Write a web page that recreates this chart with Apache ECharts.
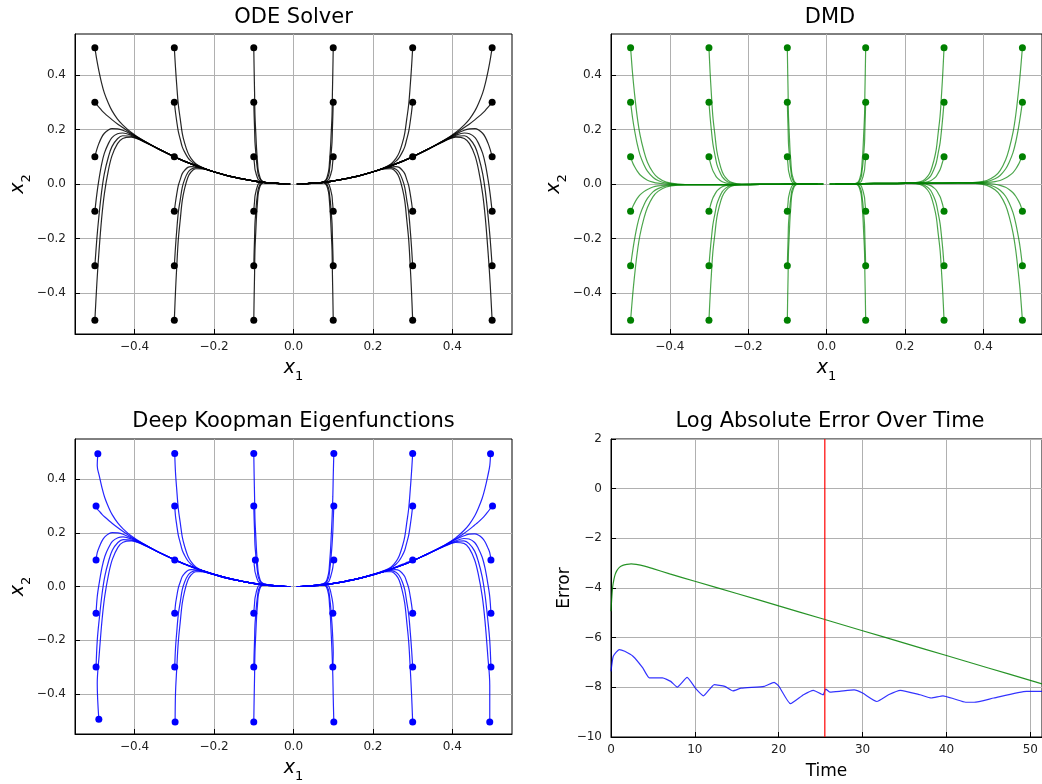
<!DOCTYPE html>
<html>
<head>
<meta charset="utf-8">
<script src="https://cdn.jsdelivr.net/npm/echarts@6/dist/echarts.min.js"></script>
<style>
  html, body { margin: 0; padding: 0; background: #fff; }
  #chart { width: 1042px; height: 784px; }
</style>
</head>
<body>
<div id="chart"></div>
<script>
// ---------------------------------------------------------------------------
// Phase-portrait data. Columns are the initial x1 values, rows the initial x2.
// Each trajectory is sampled at the same instants along its path.
// ---------------------------------------------------------------------------
const startX1 = [-0.5, -0.3, -0.1, 0.1, 0.3, 0.5];
const startX2 = [0.5, 0.3, 0.1, -0.1, -0.3, -0.5];
const phaseTicks = [-0.4, -0.2, 0, 0.2, 0.4];
const timeTicks = [0, 10, 20, 30, 40, 50];
const errorTicks = [-10, -8, -6, -4, -2, 0, 2];

// x1 along the trajectories of each column (ODE solver)
const odeX1 = [
  [-0.5, -0.495, -0.49, -0.483, -0.476, -0.466, -0.457, -0.443, -0.43, -0.409, -0.38, -0.335, -0.274, -0.203, -0.136, -0.075, -0.038],
  [-0.3, -0.297, -0.294, -0.29, -0.285, -0.28, -0.274, -0.266, -0.258, -0.246, -0.228, -0.201, -0.165, -0.122, -0.082, -0.045, -0.023],
  [-0.1, -0.099, -0.098, -0.097, -0.095, -0.093, -0.091, -0.089, -0.086, -0.082, -0.076, -0.067, -0.055, -0.041, -0.027, -0.015, -0.008],
  [0.1, 0.099, 0.098, 0.097, 0.095, 0.093, 0.091, 0.089, 0.086, 0.082, 0.076, 0.067, 0.055, 0.041, 0.027, 0.015, 0.008],
  [0.3, 0.297, 0.294, 0.29, 0.285, 0.28, 0.274, 0.266, 0.258, 0.246, 0.228, 0.201, 0.165, 0.122, 0.082, 0.045, 0.023],
  [0.5, 0.495, 0.49, 0.483, 0.476, 0.466, 0.457, 0.443, 0.43, 0.409, 0.38, 0.335, 0.274, 0.203, 0.136, 0.075, 0.038]
];

// x2 along the trajectories (ODE solver): odeX2[column][row]
const odeX2 = [
  [
    [0.5, 0.454, 0.416, 0.37, 0.333, 0.296, 0.269, 0.238, 0.217, 0.19, 0.161, 0.125, 0.083, 0.046, 0.021, 0.006, 0.002],
    [0.3, 0.29, 0.282, 0.27, 0.26, 0.247, 0.236, 0.22, 0.207, 0.186, 0.161, 0.125, 0.083, 0.046, 0.021, 0.006, 0.002],
    [0.1, 0.127, 0.148, 0.171, 0.186, 0.198, 0.203, 0.202, 0.197, 0.183, 0.16, 0.125, 0.083, 0.046, 0.021, 0.006, 0.002],
    [-0.1, -0.037, 0.014, 0.072, 0.113, 0.148, 0.17, 0.184, 0.187, 0.179, 0.159, 0.125, 0.083, 0.046, 0.021, 0.006, 0.002],
    [-0.3, -0.201, -0.121, -0.028, 0.039, 0.099, 0.137, 0.166, 0.177, 0.175, 0.158, 0.125, 0.083, 0.046, 0.021, 0.006, 0.002],
    [-0.5, -0.365, -0.255, -0.127, -0.035, 0.05, 0.103, 0.148, 0.167, 0.172, 0.157, 0.125, 0.083, 0.046, 0.021, 0.006, 0.002]
  ],
  [
    [0.5, 0.426, 0.364, 0.292, 0.238, 0.186, 0.15, 0.115, 0.094, 0.074, 0.059, 0.045, 0.03, 0.017, 0.007, 0.002, 0.001],
    [0.3, 0.262, 0.23, 0.193, 0.164, 0.136, 0.117, 0.097, 0.084, 0.071, 0.059, 0.045, 0.03, 0.017, 0.007, 0.002, 0.001],
    [0.1, 0.098, 0.096, 0.093, 0.091, 0.087, 0.084, 0.079, 0.074, 0.067, 0.058, 0.045, 0.03, 0.017, 0.007, 0.002, 0.001],
    [-0.1, -0.066, -0.038, -0.006, 0.017, 0.038, 0.05, 0.061, 0.064, 0.063, 0.057, 0.045, 0.03, 0.017, 0.007, 0.002, 0.001],
    [-0.3, -0.23, -0.172, -0.105, -0.057, -0.012, 0.017, 0.042, 0.054, 0.06, 0.056, 0.045, 0.03, 0.017, 0.007, 0.002, 0.001],
    [-0.5, -0.393, -0.306, -0.205, -0.13, -0.061, -0.016, 0.024, 0.044, 0.056, 0.055, 0.045, 0.03, 0.017, 0.007, 0.002, 0.001]
  ],
  [
    [0.5, 0.411, 0.338, 0.253, 0.19, 0.13, 0.09, 0.053, 0.033, 0.016, 0.008, 0.005, 0.003, 0.002, 0.001, 0, 0],
    [0.3, 0.247, 0.204, 0.154, 0.116, 0.081, 0.057, 0.035, 0.023, 0.013, 0.008, 0.005, 0.003, 0.002, 0.001, 0, 0],
    [0.1, 0.084, 0.07, 0.054, 0.043, 0.032, 0.024, 0.017, 0.013, 0.009, 0.007, 0.005, 0.003, 0.002, 0.001, 0, 0],
    [-0.1, -0.08, -0.064, -0.045, -0.031, -0.018, -0.009, -0.001, 0.003, 0.005, 0.006, 0.005, 0.003, 0.002, 0.001, 0, 0],
    [-0.3, -0.244, -0.198, -0.144, -0.105, -0.067, -0.042, -0.02, -0.007, 0.002, 0.005, 0.005, 0.003, 0.002, 0.001, 0, 0],
    [-0.5, -0.408, -0.332, -0.243, -0.178, -0.116, -0.075, -0.038, -0.017, -0.002, 0.004, 0.005, 0.003, 0.002, 0.001, 0, 0]
  ],
  [
    [0.5, 0.411, 0.338, 0.253, 0.19, 0.13, 0.09, 0.053, 0.033, 0.016, 0.008, 0.005, 0.003, 0.002, 0.001, 0, 0],
    [0.3, 0.247, 0.204, 0.154, 0.116, 0.081, 0.057, 0.035, 0.023, 0.013, 0.008, 0.005, 0.003, 0.002, 0.001, 0, 0],
    [0.1, 0.084, 0.07, 0.054, 0.043, 0.032, 0.024, 0.017, 0.013, 0.009, 0.007, 0.005, 0.003, 0.002, 0.001, 0, 0],
    [-0.1, -0.08, -0.064, -0.045, -0.031, -0.018, -0.009, -0.001, 0.003, 0.005, 0.006, 0.005, 0.003, 0.002, 0.001, 0, 0],
    [-0.3, -0.244, -0.198, -0.144, -0.105, -0.067, -0.042, -0.02, -0.007, 0.002, 0.005, 0.005, 0.003, 0.002, 0.001, 0, 0],
    [-0.5, -0.408, -0.332, -0.243, -0.178, -0.116, -0.075, -0.038, -0.017, -0.002, 0.004, 0.005, 0.003, 0.002, 0.001, 0, 0]
  ],
  [
    [0.5, 0.426, 0.364, 0.292, 0.238, 0.186, 0.15, 0.115, 0.094, 0.074, 0.059, 0.045, 0.03, 0.017, 0.007, 0.002, 0.001],
    [0.3, 0.262, 0.23, 0.193, 0.164, 0.136, 0.117, 0.097, 0.084, 0.071, 0.059, 0.045, 0.03, 0.017, 0.007, 0.002, 0.001],
    [0.1, 0.098, 0.096, 0.093, 0.091, 0.087, 0.084, 0.079, 0.074, 0.067, 0.058, 0.045, 0.03, 0.017, 0.007, 0.002, 0.001],
    [-0.1, -0.066, -0.038, -0.006, 0.017, 0.038, 0.05, 0.061, 0.064, 0.063, 0.057, 0.045, 0.03, 0.017, 0.007, 0.002, 0.001],
    [-0.3, -0.23, -0.172, -0.105, -0.057, -0.012, 0.017, 0.042, 0.054, 0.06, 0.056, 0.045, 0.03, 0.017, 0.007, 0.002, 0.001],
    [-0.5, -0.393, -0.306, -0.205, -0.13, -0.061, -0.016, 0.024, 0.044, 0.056, 0.055, 0.045, 0.03, 0.017, 0.007, 0.002, 0.001]
  ],
  [
    [0.5, 0.454, 0.416, 0.37, 0.333, 0.296, 0.269, 0.238, 0.217, 0.19, 0.161, 0.125, 0.083, 0.046, 0.021, 0.006, 0.002],
    [0.3, 0.29, 0.282, 0.27, 0.26, 0.247, 0.236, 0.22, 0.207, 0.186, 0.161, 0.125, 0.083, 0.046, 0.021, 0.006, 0.002],
    [0.1, 0.127, 0.148, 0.171, 0.186, 0.198, 0.203, 0.202, 0.197, 0.183, 0.16, 0.125, 0.083, 0.046, 0.021, 0.006, 0.002],
    [-0.1, -0.037, 0.014, 0.072, 0.113, 0.148, 0.17, 0.184, 0.187, 0.179, 0.159, 0.125, 0.083, 0.046, 0.021, 0.006, 0.002],
    [-0.3, -0.201, -0.121, -0.028, 0.039, 0.099, 0.137, 0.166, 0.177, 0.175, 0.158, 0.125, 0.083, 0.046, 0.021, 0.006, 0.002],
    [-0.5, -0.365, -0.255, -0.127, -0.035, 0.05, 0.103, 0.148, 0.167, 0.172, 0.157, 0.125, 0.083, 0.046, 0.021, 0.006, 0.002]
  ]
];

// x1 along the trajectories of each column (DMD reconstruction)
const dmdX1 = [
  [-0.5, -0.495, -0.49, -0.483, -0.476, -0.466, -0.457, -0.443, -0.43, -0.409, -0.38, -0.335, -0.274, -0.203, -0.136, -0.075, -0.038],
  [-0.3, -0.297, -0.294, -0.29, -0.285, -0.28, -0.274, -0.266, -0.258, -0.246, -0.228, -0.201, -0.165, -0.122, -0.082, -0.045, -0.023],
  [-0.1, -0.099, -0.098, -0.097, -0.095, -0.093, -0.091, -0.089, -0.086, -0.082, -0.076, -0.067, -0.055, -0.041, -0.027, -0.015, -0.008],
  [0.1, 0.099, 0.098, 0.097, 0.095, 0.093, 0.091, 0.089, 0.086, 0.082, 0.076, 0.067, 0.055, 0.041, 0.027, 0.015, 0.008],
  [0.3, 0.297, 0.294, 0.29, 0.285, 0.28, 0.274, 0.266, 0.258, 0.246, 0.228, 0.201, 0.165, 0.122, 0.082, 0.045, 0.023],
  [0.5, 0.495, 0.49, 0.483, 0.476, 0.466, 0.457, 0.443, 0.43, 0.409, 0.38, 0.335, 0.274, 0.203, 0.136, 0.075, 0.038]
];

// x2 along the trajectories (DMD reconstruction): dmdX2[column][row]
const dmdX2 = [
  [
    [0.5, 0.406, 0.332, 0.245, 0.181, 0.12, 0.08, 0.043, 0.023, 0.007, 0, -0.002, -0.002, -0.002, -0.001, -0.001, 0],
    [0.3, 0.243, 0.198, 0.146, 0.107, 0.071, 0.047, 0.025, 0.013, 0.003, -0.001, -0.002, -0.002, -0.002, -0.001, -0.001, 0],
    [0.1, 0.079, 0.064, 0.047, 0.034, 0.022, 0.014, 0.007, 0.003, 0, -0.002, -0.002, -0.002, -0.002, -0.001, -0.001, 0],
    [-0.1, -0.085, -0.07, -0.053, -0.04, -0.028, -0.02, -0.011, -0.007, -0.004, -0.002, -0.002, -0.002, -0.002, -0.001, -0.001, 0],
    [-0.3, -0.249, -0.204, -0.152, -0.113, -0.077, -0.053, -0.029, -0.017, -0.007, -0.003, -0.002, -0.002, -0.002, -0.001, -0.001, 0],
    [-0.5, -0.412, -0.338, -0.251, -0.187, -0.126, -0.086, -0.047, -0.027, -0.011, -0.004, -0.002, -0.002, -0.002, -0.001, -0.001, 0]
  ],
  [
    [0.5, 0.408, 0.334, 0.247, 0.183, 0.122, 0.082, 0.044, 0.024, 0.008, 0.001, -0.001, -0.001, -0.001, 0, 0, 0],
    [0.3, 0.245, 0.2, 0.148, 0.109, 0.073, 0.049, 0.026, 0.014, 0.004, 0, -0.001, -0.001, -0.001, 0, 0, 0],
    [0.1, 0.081, 0.066, 0.049, 0.036, 0.024, 0.016, 0.008, 0.004, 0.001, -0.001, -0.001, -0.001, -0.001, 0, 0, 0],
    [-0.1, -0.083, -0.068, -0.051, -0.038, -0.026, -0.018, -0.01, -0.006, -0.003, -0.001, -0.001, -0.001, -0.001, 0, 0, 0],
    [-0.3, -0.247, -0.202, -0.15, -0.111, -0.075, -0.051, -0.028, -0.016, -0.006, -0.002, -0.001, -0.001, -0.001, 0, 0, 0],
    [-0.5, -0.41, -0.336, -0.249, -0.185, -0.124, -0.084, -0.046, -0.026, -0.01, -0.003, -0.001, -0.001, -0.001, 0, 0, 0]
  ],
  [
    [0.5, 0.409, 0.335, 0.248, 0.184, 0.123, 0.083, 0.045, 0.025, 0.009, 0.002, 0, 0, 0, 0, 0, 0],
    [0.3, 0.246, 0.201, 0.149, 0.11, 0.074, 0.05, 0.027, 0.015, 0.005, 0.001, 0, 0, 0, 0, 0, 0],
    [0.1, 0.082, 0.067, 0.05, 0.037, 0.025, 0.017, 0.009, 0.005, 0.002, 0, 0, 0, 0, 0, 0, 0],
    [-0.1, -0.082, -0.067, -0.05, -0.037, -0.025, -0.017, -0.009, -0.005, -0.002, 0, 0, 0, 0, 0, 0, 0],
    [-0.3, -0.246, -0.201, -0.149, -0.11, -0.074, -0.05, -0.027, -0.015, -0.005, -0.001, 0, 0, 0, 0, 0, 0],
    [-0.5, -0.409, -0.335, -0.248, -0.184, -0.123, -0.083, -0.045, -0.025, -0.009, -0.002, 0, 0, 0, 0, 0, 0]
  ],
  [
    [0.5, 0.41, 0.336, 0.249, 0.185, 0.124, 0.084, 0.046, 0.026, 0.01, 0.003, 0.001, 0.001, 0.001, 0, 0, 0],
    [0.3, 0.247, 0.202, 0.15, 0.111, 0.075, 0.051, 0.028, 0.016, 0.006, 0.002, 0.001, 0.001, 0.001, 0, 0, 0],
    [0.1, 0.083, 0.068, 0.051, 0.038, 0.026, 0.018, 0.01, 0.006, 0.003, 0.001, 0.001, 0.001, 0.001, 0, 0, 0],
    [-0.1, -0.081, -0.066, -0.049, -0.036, -0.024, -0.016, -0.008, -0.004, -0.001, 0.001, 0.001, 0.001, 0.001, 0, 0, 0],
    [-0.3, -0.245, -0.2, -0.148, -0.109, -0.073, -0.049, -0.026, -0.014, -0.004, 0, 0.001, 0.001, 0.001, 0, 0, 0],
    [-0.5, -0.408, -0.334, -0.247, -0.183, -0.122, -0.082, -0.044, -0.024, -0.008, -0.001, 0.001, 0.001, 0.001, 0, 0, 0]
  ],
  [
    [0.5, 0.412, 0.338, 0.251, 0.187, 0.126, 0.086, 0.048, 0.028, 0.012, 0.005, 0.003, 0.002, 0.002, 0.001, 0, 0],
    [0.3, 0.249, 0.204, 0.152, 0.113, 0.077, 0.053, 0.03, 0.018, 0.008, 0.004, 0.003, 0.002, 0.002, 0.001, 0, 0],
    [0.1, 0.085, 0.07, 0.053, 0.04, 0.028, 0.02, 0.012, 0.008, 0.005, 0.003, 0.003, 0.002, 0.002, 0.001, 0, 0],
    [-0.1, -0.079, -0.064, -0.047, -0.034, -0.022, -0.014, -0.006, -0.002, 0.001, 0.003, 0.003, 0.002, 0.002, 0.001, 0, 0],
    [-0.3, -0.243, -0.198, -0.146, -0.107, -0.071, -0.047, -0.024, -0.012, -0.002, 0.002, 0.003, 0.002, 0.002, 0.001, 0, 0],
    [-0.5, -0.406, -0.332, -0.245, -0.181, -0.12, -0.08, -0.042, -0.022, -0.006, 0.001, 0.003, 0.002, 0.002, 0.001, 0, 0]
  ],
  [
    [0.5, 0.414, 0.34, 0.253, 0.189, 0.128, 0.088, 0.049, 0.029, 0.013, 0.006, 0.004, 0.003, 0.002, 0.001, 0.001, 0],
    [0.3, 0.251, 0.206, 0.154, 0.115, 0.079, 0.055, 0.031, 0.019, 0.009, 0.005, 0.004, 0.003, 0.002, 0.001, 0.001, 0],
    [0.1, 0.087, 0.072, 0.055, 0.042, 0.03, 0.022, 0.013, 0.009, 0.006, 0.004, 0.004, 0.003, 0.002, 0.001, 0.001, 0],
    [-0.1, -0.077, -0.062, -0.045, -0.032, -0.02, -0.012, -0.005, -0.001, 0.002, 0.004, 0.004, 0.003, 0.002, 0.001, 0.001, 0],
    [-0.3, -0.241, -0.196, -0.144, -0.105, -0.069, -0.045, -0.023, -0.011, -0.001, 0.003, 0.004, 0.003, 0.002, 0.001, 0.001, 0],
    [-0.5, -0.404, -0.33, -0.243, -0.179, -0.118, -0.078, -0.041, -0.021, -0.005, 0.002, 0.004, 0.003, 0.002, 0.001, 0.001, 0]
  ]
];

// x1 along the trajectories of each column (Deep Koopman prediction)
const koopX1 = [
  [-0.497, -0.494, -0.489, -0.482, -0.475, -0.465, -0.456, -0.442, -0.429, -0.408, -0.379, -0.334, -0.273, -0.202, -0.135, -0.074, -0.037],
  [-0.299, -0.297, -0.294, -0.29, -0.285, -0.28, -0.274, -0.266, -0.258, -0.246, -0.228, -0.201, -0.165, -0.122, -0.082, -0.045, -0.023],
  [-0.1, -0.099, -0.098, -0.097, -0.095, -0.093, -0.091, -0.089, -0.086, -0.082, -0.076, -0.067, -0.055, -0.041, -0.027, -0.015, -0.008],
  [0.101, 0.1, 0.099, 0.097, 0.095, 0.093, 0.091, 0.089, 0.086, 0.082, 0.076, 0.067, 0.055, 0.041, 0.027, 0.015, 0.008],
  [0.3, 0.297, 0.294, 0.29, 0.285, 0.28, 0.274, 0.266, 0.258, 0.246, 0.228, 0.201, 0.165, 0.122, 0.082, 0.045, 0.023],
  [0.497, 0.494, 0.489, 0.482, 0.475, 0.465, 0.456, 0.442, 0.429, 0.408, 0.379, 0.334, 0.273, 0.202, 0.135, 0.074, 0.037]
];

// starting x1 of the Deep Koopman trajectories (encoded initial states), koopStartX1[column][row]
const koopStartX1 = [
  [-0.4925, -0.497, -0.497, -0.497, -0.497, -0.49],
  [-0.299, -0.299, -0.299, -0.299, -0.299, -0.298],
  [-0.1, -0.1, -0.096, -0.1, -0.1, -0.1],
  [0.1015, 0.1015, 0.1015, 0.099, 0.099, 0.1015],
  [0.3, 0.3, 0.3, 0.3, 0.3, 0.3],
  [0.496, 0.501, 0.497, 0.497, 0.497, 0.494]
];

// x2 along the trajectories (Deep Koopman prediction): koopX2[column][row]
const koopX2 = [
  [
    [0.495, 0.45, 0.413, 0.368, 0.331, 0.294, 0.267, 0.236, 0.215, 0.188, 0.16, 0.124, 0.083, 0.046, 0.021, 0.006, 0.002],
    [0.3, 0.289, 0.281, 0.269, 0.259, 0.246, 0.235, 0.219, 0.205, 0.184, 0.16, 0.124, 0.083, 0.046, 0.021, 0.006, 0.002],
    [0.099, 0.126, 0.147, 0.17, 0.185, 0.197, 0.201, 0.2, 0.195, 0.181, 0.159, 0.124, 0.083, 0.046, 0.021, 0.006, 0.002],
    [-0.1, -0.038, 0.013, 0.071, 0.112, 0.146, 0.168, 0.182, 0.185, 0.177, 0.158, 0.124, 0.083, 0.046, 0.021, 0.006, 0.002],
    [-0.3, -0.202, -0.122, -0.029, 0.038, 0.097, 0.135, 0.164, 0.175, 0.173, 0.157, 0.124, 0.083, 0.046, 0.021, 0.006, 0.002],
    [-0.495, -0.362, -0.253, -0.126, -0.035, 0.049, 0.101, 0.146, 0.165, 0.17, 0.156, 0.124, 0.083, 0.046, 0.021, 0.006, 0.002]
  ],
  [
    [0.496, 0.424, 0.363, 0.291, 0.237, 0.185, 0.149, 0.114, 0.093, 0.073, 0.059, 0.045, 0.03, 0.017, 0.007, 0.002, 0.001],
    [0.3, 0.262, 0.23, 0.192, 0.163, 0.135, 0.116, 0.096, 0.083, 0.07, 0.058, 0.045, 0.03, 0.017, 0.007, 0.002, 0.001],
    [0.099, 0.097, 0.095, 0.092, 0.09, 0.086, 0.083, 0.078, 0.073, 0.066, 0.058, 0.045, 0.03, 0.017, 0.007, 0.002, 0.001],
    [-0.1, -0.066, -0.038, -0.006, 0.017, 0.037, 0.049, 0.06, 0.063, 0.062, 0.056, 0.045, 0.03, 0.017, 0.007, 0.002, 0.001],
    [-0.3, -0.23, -0.172, -0.105, -0.057, -0.012, 0.017, 0.041, 0.053, 0.059, 0.055, 0.045, 0.03, 0.017, 0.007, 0.002, 0.001],
    [-0.505, -0.397, -0.309, -0.207, -0.131, -0.062, -0.017, 0.023, 0.043, 0.055, 0.055, 0.045, 0.03, 0.017, 0.007, 0.002, 0.001]
  ],
  [
    [0.496, 0.408, 0.336, 0.252, 0.19, 0.131, 0.091, 0.055, 0.035, 0.018, 0.011, 0.007, 0.004, 0.002, 0.001, 0, 0],
    [0.3, 0.247, 0.205, 0.155, 0.118, 0.083, 0.059, 0.037, 0.025, 0.015, 0.01, 0.007, 0.004, 0.002, 0.001, 0, 0],
    [0.099, 0.084, 0.071, 0.056, 0.045, 0.034, 0.026, 0.019, 0.015, 0.011, 0.009, 0.007, 0.004, 0.002, 0.001, 0, 0],
    [-0.1, -0.08, -0.063, -0.044, -0.03, -0.016, -0.007, 0.001, 0.005, 0.008, 0.008, 0.007, 0.004, 0.002, 0.001, 0, 0],
    [-0.3, -0.244, -0.198, -0.143, -0.104, -0.066, -0.041, -0.018, -0.005, 0.004, 0.007, 0.007, 0.004, 0.002, 0.001, 0, 0],
    [-0.505, -0.412, -0.335, -0.245, -0.179, -0.116, -0.075, -0.037, -0.015, 0, 0.006, 0.007, 0.004, 0.002, 0.001, 0, 0]
  ],
  [
    [0.496, 0.408, 0.336, 0.252, 0.19, 0.131, 0.091, 0.055, 0.035, 0.018, 0.011, 0.007, 0.004, 0.002, 0.001, 0, 0],
    [0.3, 0.247, 0.205, 0.155, 0.118, 0.083, 0.059, 0.037, 0.025, 0.015, 0.01, 0.007, 0.004, 0.002, 0.001, 0, 0],
    [0.099, 0.084, 0.071, 0.056, 0.045, 0.034, 0.026, 0.019, 0.015, 0.011, 0.009, 0.007, 0.004, 0.002, 0.001, 0, 0],
    [-0.1, -0.08, -0.063, -0.044, -0.03, -0.016, -0.007, 0.001, 0.005, 0.008, 0.008, 0.007, 0.004, 0.002, 0.001, 0, 0],
    [-0.3, -0.244, -0.198, -0.143, -0.104, -0.066, -0.041, -0.018, -0.005, 0.004, 0.007, 0.007, 0.004, 0.002, 0.001, 0, 0],
    [-0.505, -0.412, -0.335, -0.245, -0.179, -0.116, -0.075, -0.037, -0.015, 0, 0.006, 0.007, 0.004, 0.002, 0.001, 0, 0]
  ],
  [
    [0.496, 0.424, 0.363, 0.291, 0.237, 0.185, 0.149, 0.114, 0.093, 0.073, 0.059, 0.045, 0.03, 0.017, 0.007, 0.002, 0.001],
    [0.3, 0.262, 0.23, 0.192, 0.163, 0.135, 0.116, 0.096, 0.083, 0.07, 0.058, 0.045, 0.03, 0.017, 0.007, 0.002, 0.001],
    [0.099, 0.097, 0.095, 0.092, 0.09, 0.086, 0.083, 0.078, 0.073, 0.066, 0.058, 0.045, 0.03, 0.017, 0.007, 0.002, 0.001],
    [-0.1, -0.066, -0.038, -0.006, 0.017, 0.037, 0.049, 0.06, 0.063, 0.062, 0.056, 0.045, 0.03, 0.017, 0.007, 0.002, 0.001],
    [-0.3, -0.23, -0.172, -0.105, -0.057, -0.012, 0.017, 0.041, 0.053, 0.059, 0.055, 0.045, 0.03, 0.017, 0.007, 0.002, 0.001],
    [-0.505, -0.397, -0.309, -0.207, -0.131, -0.062, -0.017, 0.023, 0.043, 0.055, 0.055, 0.045, 0.03, 0.017, 0.007, 0.002, 0.001]
  ],
  [
    [0.495, 0.45, 0.412, 0.366, 0.329, 0.291, 0.263, 0.231, 0.209, 0.181, 0.153, 0.119, 0.079, 0.044, 0.02, 0.006, 0.002],
    [0.3, 0.288, 0.278, 0.265, 0.254, 0.24, 0.229, 0.212, 0.198, 0.177, 0.153, 0.119, 0.079, 0.044, 0.02, 0.006, 0.002],
    [0.099, 0.126, 0.145, 0.167, 0.181, 0.192, 0.196, 0.195, 0.189, 0.175, 0.152, 0.119, 0.079, 0.044, 0.02, 0.006, 0.002],
    [-0.1, -0.038, 0.012, 0.069, 0.109, 0.143, 0.164, 0.177, 0.179, 0.17, 0.151, 0.119, 0.079, 0.044, 0.02, 0.006, 0.002],
    [-0.3, -0.202, -0.123, -0.03, 0.036, 0.095, 0.132, 0.16, 0.17, 0.167, 0.15, 0.119, 0.079, 0.044, 0.02, 0.006, 0.002],
    [-0.505, -0.368, -0.257, -0.128, -0.036, 0.047, 0.099, 0.143, 0.161, 0.164, 0.149, 0.119, 0.079, 0.044, 0.02, 0.006, 0.002]
  ]
];

// Log absolute prediction error over time
const errTimeDmd = [0, 0.1, 0.2, 0.35, 0.5, 0.7, 1, 1.4, 1.9, 2.4, 3, 4, 5, 7, 10, 15, 20, 25, 30, 35, 40, 45, 50, 51.4];
const errDmd = [-4.94, -4.35, -3.95, -3.65, -3.45, -3.3, -3.17, -3.09, -3.05, -3.03, -3.05, -3.12, -3.22, -3.43, -3.73, -4.22, -4.72, -5.22, -5.72, -6.22, -6.72, -7.22, -7.72, -7.86];
const errTimeKoop = [0, 0.27, 0.98, 1.64, 2.62, 3.79, 4.57, 6.14, 7.12, 7.9, 9.08, 10.06, 11.03, 12.32, 13.57, 14.55, 15.53, 18.27, 19.45, 20.03, 21.4, 22.96, 24.14, 25.3, 25.6, 26.1, 27.26, 29.0, 30.0, 31.7, 33.1, 34.5, 36.85, 38.2, 39.6, 40.96, 42.3, 43.3, 45.65, 49.56, 51.4];
const errKoop = [-7.36, -6.75, -6.48, -6.55, -6.75, -7.22, -7.62, -7.62, -7.76, -7.99, -7.6, -8.03, -8.34, -7.89, -7.96, -8.14, -8.03, -7.96, -7.8, -7.96, -8.66, -8.3, -8.12, -8.3, -8.07, -8.19, -8.16, -8.1, -8.23, -8.57, -8.3, -8.12, -8.3, -8.43, -8.34, -8.47, -8.6, -8.6, -8.43, -8.16, -8.16];
const trainEndTime = 25.5;

// ---------------------------------------------------------------------------
// Layout and styling
// ---------------------------------------------------------------------------
const FONT = 'DejaVu Sans';
const grids = [
  { left: 75, top: 34, width: 437, height: 300 },
  { left: 611, top: 34, width: 438, height: 300 },
  { left: 75, top: 439, width: 437, height: 298 },
  { left: 611, top: 439, width: 438, height: 298 }
];

const minusSign = s => String(s).replace('-', '\u2212');
const fmtPhase = v => minusSign(Math.abs(v) < 1e-9 ? '0.0' : v.toFixed(1));
const fmtInt = v => minusSign(Math.round(v));

// italic symbol with a lowered subscript digit
const mathRich = {
  i: { fontFamily: FONT, fontStyle: 'italic', fontSize: 19, lineHeight: 22, verticalAlign: 'top', color: '#000' },
  s: { fontFamily: FONT, fontSize: 13, lineHeight: 13, padding: [11, 0, 0, 0], verticalAlign: 'top', color: '#000' }
};

function valueAxis(gridIndex, opts) {
  return Object.assign({
    type: 'value',
    gridIndex,
    axisLine: { show: true, onZero: false, lineStyle: { color: '#000', width: 1 } },
    axisTick: { show: true, inside: true, length: 5, lineStyle: { color: '#000', width: 1 } },
    axisLabel: { fontFamily: FONT, fontSize: 12, color: '#222', margin: 8 },
    splitLine: { show: true, lineStyle: { color: '#b0b0b0', width: 1 } },
    nameLocation: 'middle'
  }, opts);
}

function phaseXAxis(g) {
  return valueAxis(g, {
    min: -0.55, max: 0.55,
    axisTick: { show: true, inside: true, length: 5, customValues: phaseTicks, lineStyle: { color: '#000' } },
    axisLabel: { customValues: phaseTicks, formatter: fmtPhase, fontFamily: FONT, fontSize: 12, color: '#222', margin: 7 },
    name: '{i|x}{s|1}', nameGap: 25, nameTextStyle: { rich: mathRich }
  });
}
function phaseYAxis(g) {
  return valueAxis(g, {
    min: -0.55, max: 0.55,
    axisTick: { show: true, inside: true, length: 5, customValues: phaseTicks, lineStyle: { color: '#000' } },
    axisLabel: { customValues: phaseTicks, formatter: fmtPhase, fontFamily: FONT, fontSize: 12, color: '#222', margin: 9 },
    name: '{i|x}{s|2}', nameGap: 44, nameTextStyle: { rich: mathRich }
  });
}

const xAxes = [
  phaseXAxis(0), phaseXAxis(1), phaseXAxis(2),
  valueAxis(3, {
    min: 0, max: 51.4,
    axisTick: { show: true, inside: true, length: 5, customValues: timeTicks, lineStyle: { color: '#000' } },
    axisLabel: { customValues: timeTicks, formatter: fmtInt, fontFamily: FONT, fontSize: 12, color: '#222', margin: 7 },
    name: 'Time', nameGap: 26, nameTextStyle: { fontFamily: FONT, fontSize: 17, color: '#000' }
  })
];
const yAxes = [
  phaseYAxis(0), phaseYAxis(1), phaseYAxis(2),
  valueAxis(3, {
    min: errorTicks[0], max: errorTicks[errorTicks.length - 1], interval: 2,
    axisLabel: { formatter: fmtInt, fontFamily: FONT, fontSize: 12, color: '#222', margin: 9 },
    name: 'Error', nameGap: 38, nameTextStyle: { fontFamily: FONT, fontSize: 17, color: '#000' }
  })
];

// one line per trajectory plus a dot at each starting state
function phaseSeries(g, x1Cols, x2Cols, color, lineOpacity, firstX1) {
  const out = [];
  const starts = [];
  x1Cols.forEach((xs, c) => {
    x2Cols[c].forEach((ys, r) => {
      const pts = xs.map((x, k) => [k === 0 && firstX1 ? firstX1[c][r] : x, ys[k]]);
      starts.push(pts[0]);
      out.push({
        type: 'line', xAxisIndex: g, yAxisIndex: g, data: pts,
        showSymbol: false, smooth: 0.35, silent: true, z: 2,
        lineStyle: { color, width: 1.2, opacity: lineOpacity }
      });
    });
  });
  out.push({
    type: 'scatter', xAxisIndex: g, yAxisIndex: g, data: starts,
    symbolSize: 7, itemStyle: { color, opacity: 1 }, silent: true, z: 3
  });
  return out;
}

const zip = (a, b) => a.map((v, i) => [v, b[i]]);

const series = [].concat(
  phaseSeries(0, odeX1, odeX2, '#000000', 0.85, null),
  phaseSeries(1, dmdX1, dmdX2, '#008000', 0.7, null),
  phaseSeries(2, koopX1, koopX2, '#0000ff', 0.85, koopStartX1),
  [
    {
      type: 'line', xAxisIndex: 3, yAxisIndex: 3, data: zip(errTimeDmd, errDmd),
      showSymbol: false, smooth: 0.3, silent: true, z: 2,
      lineStyle: { color: '#008000', width: 1.2, opacity: 0.85 }
    },
    {
      type: 'line', xAxisIndex: 3, yAxisIndex: 3, data: zip(errTimeKoop, errKoop),
      showSymbol: false, smooth: 0.15, silent: true, z: 2,
      lineStyle: { color: '#0000ff', width: 1.2, opacity: 0.8 }
    },
    {
      type: 'line', xAxisIndex: 3, yAxisIndex: 3,
      data: [[trainEndTime, errorTicks[0]], [trainEndTime, errorTicks[errorTicks.length - 1]]],
      showSymbol: false, silent: true, z: 3,
      lineStyle: { color: '#ff0000', width: 1.2 }
    }
  ]
);

const titles = [
  { text: 'ODE Solver', x: 293.5, y: 18 },
  { text: 'DMD', x: 830, y: 18 },
  { text: 'Deep Koopman Eigenfunctions', x: 293.5, y: 422 },
  { text: 'Log Absolute Error Over Time', x: 830, y: 422 }
];

const chart = echarts.init(document.getElementById('chart'), null, { renderer: 'canvas' });
chart.setOption({
  animation: false,
  backgroundColor: '#ffffff',
  grid: grids.map(g => Object.assign({ show: true, borderColor: '#000', borderWidth: 1, backgroundColor: 'transparent' }, g)),
  xAxis: xAxes,
  yAxis: yAxes,
  series,
  graphic: titles.map(t => ({
    type: 'text', x: t.x, y: t.y, silent: true,
    style: { text: t.text, fontFamily: FONT, fontSize: 21, fill: '#000', align: 'center', verticalAlign: 'middle' }
  }))
});
</script>
</body>
</html>
